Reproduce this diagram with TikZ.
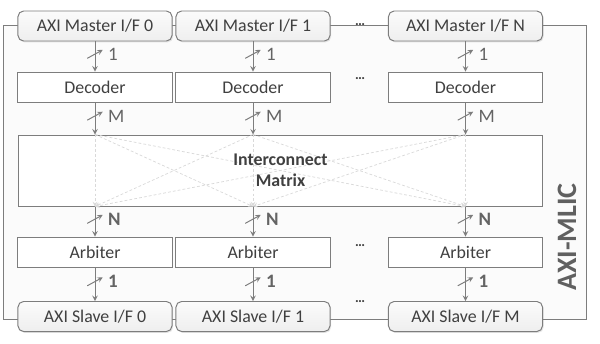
\documentclass[tikz,border=0pt]{standalone}
\usepackage{fontspec}
\setmainfont{Carlito}
\usetikzlibrary{arrows,decorations.markings,shadows}
\definecolor{ink}{RGB}{64,64,64}
\definecolor{edge}{RGB}{125,125,125}
\definecolor{buslbl}{RGB}{100,100,100}

\begin{document}
\begin{tikzpicture}[x=0.025cm, y=-0.025cm, >=stealth,
  font=\fontsize{12.7}{15}\selectfont, text=ink,
  frame/.style={draw=edge, line width=0.7pt, fill=gray!3, minimum width=14.55cm, minimum height=7.325cm,
    drop shadow={opacity=0.15, shadow xshift=1pt, shadow yshift=-1pt}},
  port/.style={draw=edge, line width=0.7pt, rounded corners=4pt, top color=gray!3, bottom color=gray!13,
    minimum width=3.85cm, minimum height=0.75cm,
    drop shadow={opacity=0.2, shadow xshift=0.8pt, shadow yshift=-1pt}},
  blk/.style={draw=edge, line width=0.7pt, fill=white, minimum width=3.85cm, minimum height=0.75cm},
  arr/.style={->, draw=edge, line width=0.7pt},
  bus/.style={postaction={decorate}, decoration={markings,
    mark=at position 0.42 with {\draw[edge, line width=0.7pt] (3pt,-5.5pt) -- (-3pt,5.5pt);}}},
  lbl/.style={pos=0.42, right=9pt, inner sep=0pt, text=buslbl, font=\fontsize{13.5}{15}\selectfont},
  xbar/.style={draw=gray!30, line width=0.5pt, dash pattern=on 2pt off 1.5pt, ->},
  dots/.style={anchor=base, font=\fontsize{10}{12}\selectfont}]
\useasboundingbox (0,0) rectangle (600,343);

% outer frame of the whole interconnect
\node[frame] (mlic) at (295,172.5) {};
\node[rotate=90, font=\bfseries\fontsize{20}{24}\selectfont, text=gray!75!black] (title) at (567,237) {AXI-MLIC};

% masters on top
\node[port] (m0) at (95,26) {AXI Master I/F 0};
\node[port] (m1) at (253,26) {AXI Master I/F 1};
\node[port] (mN) at (465.5,26) {AXI Master I/F N};

% decoders
\node[blk] (d0) at (95,87) {Decoder};
\node[blk] (d1) at (253,87) {Decoder};
\node[blk] (dN) at (465.5,87) {Decoder};

% the crossbar
\node[blk, minimum width=13.075cm, minimum height=1.775cm] (mtx) at (280.5,170.5) {};
\foreach \c in {0,1,N} {
  \coordinate (in\c) at (d\c.south |- mtx.north);
  \coordinate (out\c) at (d\c.south |- mtx.south);
}
\foreach \i in {0,1,N}
  \foreach \o in {0,1,N}
    \draw[xbar] (in\i) -- (out\o);
\node[font=\bfseries\fontsize{12.7}{15}\selectfont, align=center] (mtxtxt) at (mtx.center) {Interconnect\\Matrix};

% arbiters
\node[blk] (a0) at (95,252) {Arbiter};
\node[blk] (a1) at (253,252) {Arbiter};
\node[blk] (aN) at (465.5,252) {Arbiter};

% slaves at the bottom
\node[port] (s0) at (95,316.5) {AXI Slave I/F 0};
\node[port] (s1) at (253,316.5) {AXI Slave I/F 1};
\node[port] (sM) at (465.5,316.5) {AXI Slave I/F M};

% buses
\foreach \c in {0,1,N} {
  \draw[arr, bus] (m\c) -- node[lbl] {1} (d\c);
  \draw[arr, bus] (d\c) -- node[lbl] {M} (in\c);
  \draw[arr, bus] (out\c) -- node[lbl, font=\bfseries\fontsize{13.5}{15}\selectfont] {N} (a\c);
}
\draw[arr, bus] (a0) -- node[lbl, font=\bfseries\fontsize{13.5}{15}\selectfont] {1} (s0);
\draw[arr, bus] (a1) -- node[lbl, font=\bfseries\fontsize{13.5}{15}\selectfont] {1} (s1);
\draw[arr, bus] (aN) -- node[lbl, font=\bfseries\fontsize{13.5}{15}\selectfont] {1} (sM);

% more columns left out
\node[dots] (gapm) at (360,25) {\textbf{…}};
\node[dots] (gapd) at (360,79) {\textbf{…}};
\node[dots] (gapa) at (360,246) {\textbf{…}};
\node[dots] (gaps) at (360,302) {\textbf{…}};
\end{tikzpicture}
\end{document}
